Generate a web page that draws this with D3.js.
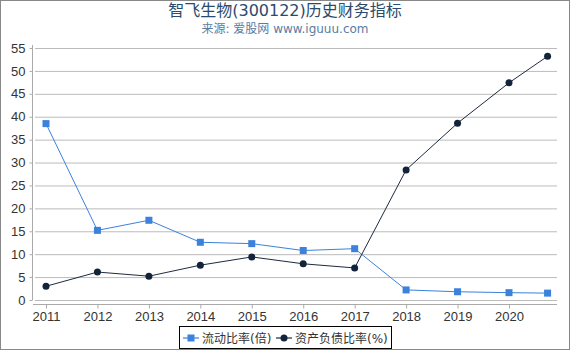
<!DOCTYPE html>
<html>
<head>
<meta charset="utf-8">
<script src="https://cdn.jsdelivr.net/npm/d3@7"></script>
<style>
  body { margin: 0; background: #fff; }
  svg { font-family: "DejaVu Sans", "Noto Sans CJK SC", sans-serif; }
</style>
</head>
<body>
<div id="chart"></div>
<script>
const years = [2011, 2012, 2013, 2014, 2015, 2016, 2017, 2018, 2019, 2020, 2020.75];
const tickYears = [2011, 2012, 2013, 2014, 2015, 2016, 2017, 2018, 2019, 2020];
const currentRatio = [38.5, 15.2, 17.4, 12.6, 12.3, 10.8, 11.2, 2.2, 1.8, 1.6, 1.5];
const debtRatio = [3.0, 6.1, 5.2, 7.6, 9.4, 7.9, 7.0, 28.4, 38.6, 47.4, 53.2];
const yTicks = [0, 5, 10, 15, 20, 25, 30, 35, 40, 45, 50, 55];

const width = 570, height = 350;

const svg = d3.select("#chart").append("svg")
    .attr("width", width)
    .attr("height", height);

svg.append("rect")
    .attr("x", 0.5).attr("y", 0.5)
    .attr("width", width - 1).attr("height", height - 1)
    .attr("fill", "#fff")
    .attr("stroke", "#888");

const x = d3.scaleLinear().domain([2011, 2020]).range([46, 509]);
const y = d3.scaleLinear().domain([0, 55]).range([300, 48]);

// gridlines
svg.append("g")
    .selectAll("line")
    .data(yTicks)
    .join("line")
    .attr("x1", 35).attr("x2", 557)
    .attr("y1", d => y(d) + 0.5).attr("y2", d => y(d) + 0.5)
    .attr("stroke", "#bbb");

// y axis
const yAxis = svg.append("g")
    .attr("transform", "translate(32.5,0)")
    .call(d3.axisLeft(y).tickValues(yTicks).tickSize(3).tickPadding(4));
yAxis.select(".domain").attr("d", "M0,45V300").attr("stroke", "#aaa");
yAxis.selectAll(".tick line").attr("stroke", "#aaa");
yAxis.selectAll("text").attr("fill", "#333").style("font-size", "13px");

// x axis
const xAxis = svg.append("g")
    .attr("transform", "translate(0,304.5)")
    .call(d3.axisBottom(x).tickValues(tickYears).tickFormat(d3.format("d")).tickSize(4).tickPadding(3));
xAxis.select(".domain").attr("d", "M33,0H557").attr("stroke", "#aaa");
xAxis.selectAll(".tick line").attr("stroke", "#aaa");
xAxis.selectAll("text").attr("fill", "#333").style("font-size", "13px");

const line = d3.line().x((d, i) => x(years[i])).y(d => y(d));

// current ratio
svg.append("path")
    .datum(currentRatio)
    .attr("d", line)
    .attr("fill", "none")
    .attr("stroke", "#3a82dc")
    .attr("stroke-width", 1);
svg.append("g")
    .selectAll("rect")
    .data(currentRatio)
    .join("rect")
    .attr("x", (d, i) => x(years[i]) - 3.5)
    .attr("y", d => y(d) - 3.5)
    .attr("width", 7).attr("height", 7)
    .attr("fill", "#3a82dc");

// debt ratio
svg.append("path")
    .datum(debtRatio)
    .attr("d", line)
    .attr("fill", "none")
    .attr("stroke", "#1c2b40")
    .attr("stroke-width", 1);
svg.append("g")
    .selectAll("circle")
    .data(debtRatio)
    .join("circle")
    .attr("cx", (d, i) => x(years[i]))
    .attr("cy", d => y(d))
    .attr("r", 3.5)
    .attr("fill", "#13233a");

// title
svg.append("text")
    .attr("x", 285).attr("y", 16)
    .attr("text-anchor", "middle")
    .attr("fill", "#2b4a6c")
    .style("font-size", "16px")
    .text("智飞生物(300122)历史财务指标");
svg.append("text")
    .attr("x", 285).attr("y", 33)
    .attr("text-anchor", "middle")
    .attr("fill", "#5a7ca3")
    .style("font-size", "12px")
    .text("来源: 爱股网 www.iguuu.com");

// legend
const lg = svg.append("g");
lg.append("rect")
    .attr("x", 179.5).attr("y", 326.5)
    .attr("width", 212).attr("height", 22)
    .attr("fill", "#fff").attr("stroke", "#000");
lg.append("line").attr("x1", 183).attr("x2", 199).attr("y1", 338).attr("y2", 338)
    .attr("stroke", "#3a82dc").attr("stroke-width", 2).attr("opacity", 0.6);
lg.append("rect").attr("x", 187.5).attr("y", 334.5).attr("width", 7).attr("height", 7).attr("fill", "#3a82dc");
lg.append("text").attr("x", 202).attr("y", 342.5).attr("fill", "#333").style("font-size", "12px").text("流动比率(倍)");
lg.append("line").attr("x1", 276).attr("x2", 292).attr("y1", 338).attr("y2", 338)
    .attr("stroke", "#1c2b40").attr("stroke-width", 2).attr("opacity", 0.6);
lg.append("circle").attr("cx", 284).attr("cy", 338).attr("r", 3.5).attr("fill", "#13233a");
lg.append("text").attr("x", 295).attr("y", 342.5).attr("fill", "#333").style("font-size", "12px").text("资产负债比率(%)");
</script>
</body>
</html>
